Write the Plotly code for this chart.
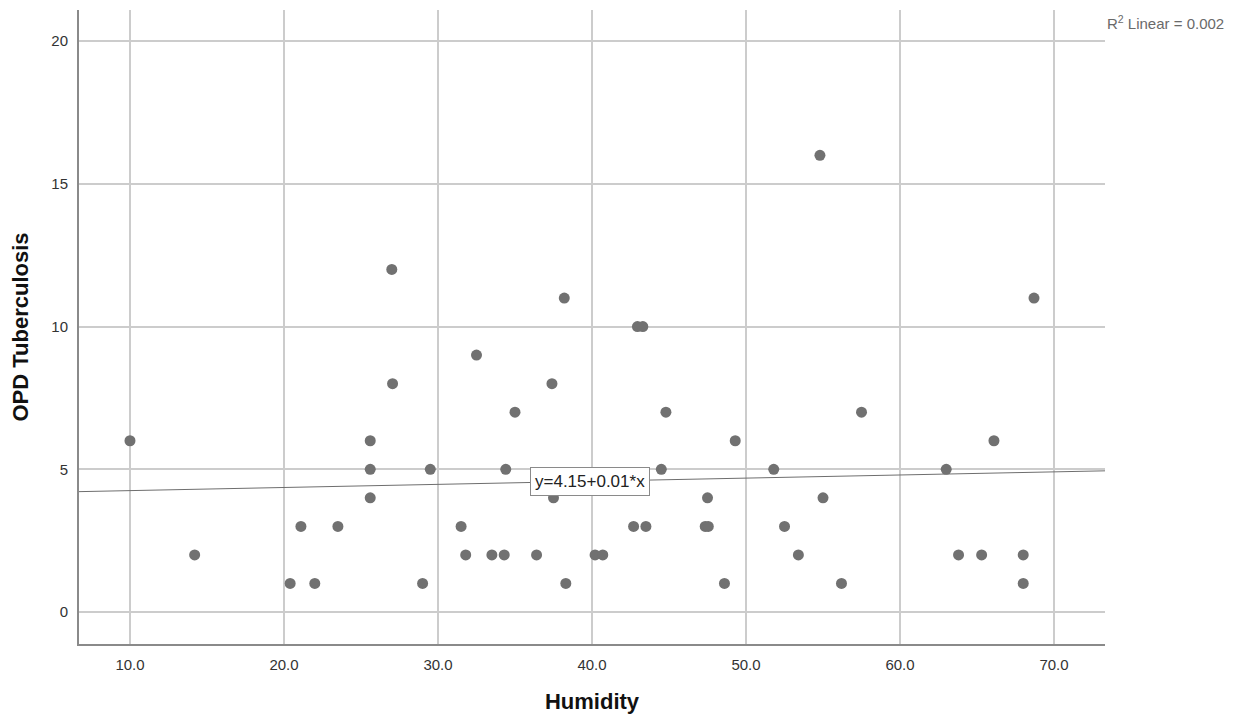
import numpy as np
import plotly.graph_objects as go

# Humidity vs OPD tuberculosis cases
humidity = [
    10.0, 14.2, 20.4, 21.1, 22.0, 23.5, 25.6, 25.6, 25.6, 27.0,
    27.05, 29.0, 29.5, 31.5, 31.8, 32.5, 33.5, 34.3, 34.4, 35.0,
    36.4, 37.4, 37.5, 38.2, 38.3, 40.2, 40.7, 42.7, 42.95, 43.3,
    43.5, 44.5, 44.8, 47.35, 47.55, 47.5, 48.6, 49.3, 51.8, 52.5,
    53.4, 54.8, 55.0, 56.2, 57.5, 63.0, 63.8, 65.3, 66.1, 68.0,
    68.0, 68.7,
]
opd_tb = [
    6, 2, 1, 3, 1, 3, 6, 5, 4, 12,
    8, 1, 5, 3, 2, 9, 2, 2, 5, 7,
    2, 8, 4, 11, 1, 2, 2, 3, 10, 10,
    3, 5, 7, 3, 3, 4, 1, 6, 5, 3,
    2, 16, 4, 1, 7, 5, 2, 2, 6, 2,
    1, 11,
]

x_ticks = [10, 20, 30, 40, 50, 60, 70]
x_tick_text = ["10.0", "20.0", "30.0", "40.0", "50.0", "60.0", "70.0"]
y_ticks = [0, 5, 10, 15, 20]
x_range = [6.69, 73.31]
y_range = [-1.12, 21.09]

# linear fit line across the whole x range
slope, intercept = np.polyfit(humidity, opd_tb, 1)
fit_x = np.array(x_range)
fit_y = intercept + slope * fit_x

fig = go.Figure()
fig.add_trace(go.Scatter(
    x=fit_x, y=fit_y, mode="lines",
    line=dict(color="#6e6e6e", width=1), showlegend=False, hoverinfo="skip",
))
fig.add_trace(go.Scatter(
    x=humidity, y=opd_tb, mode="markers",
    marker=dict(color="#717171", size=11, line=dict(width=0)),
    showlegend=False,
))

mid_x = 39.9
fig.add_annotation(
    x=mid_x, y=intercept + slope * mid_x, text="y=4.15+0.01*x",
    showarrow=False, bgcolor="white", bordercolor="#8a8a8a", borderwidth=1,
    borderpad=4, font=dict(size=17, color="#222222"),
)
fig.add_annotation(
    xref="paper", yref="paper", x=1.0, y=0.98, xanchor="left", yanchor="middle",
    text="R<sup>2</sup> Linear = 0.002", showarrow=False,
    font=dict(size=15, color="#6a6a6a"),
)

axis_common = dict(
    showgrid=True, gridcolor="#cccccc", gridwidth=1.5,
    showline=True, linecolor="#8a8a8a", linewidth=2,
    zeroline=False, ticks="", tickfont=dict(size=15, color="#333333"),
)
fig.update_xaxes(
    range=x_range, tickvals=x_ticks, ticktext=x_tick_text, ticklabelstandoff=6,
    title=dict(text="<b>Humidity</b>", font=dict(size=22, color="#111111"), standoff=22),
    **axis_common,
)
fig.update_yaxes(
    range=y_range, tickvals=y_ticks, ticklabelstandoff=6,
    title=dict(text="<b>OPD Tuberculosis</b>", font=dict(size=22, color="#111111"), standoff=26),
    **axis_common,
)
# page body has an 8px margin, so the figure is a little smaller than the window
fig.update_layout(
    width=1240, height=713,
    margin=dict(l=71, r=143, t=2, b=77),
    plot_bgcolor="white", paper_bgcolor="white",
    font=dict(family="Liberation Sans, Arial, sans-serif"),
)

fig.write_html("out.html")
